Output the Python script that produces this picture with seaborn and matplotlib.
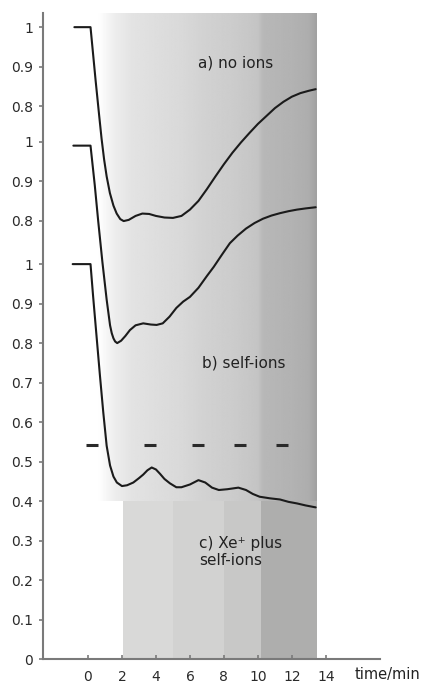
import numpy as np
import matplotlib
matplotlib.use("Agg")
import matplotlib.pyplot as plt
import seaborn as sns

# Traces drawn on one stacked axis (time in minutes, y in stacked-axis units)
t_no_ions = [-0.8, 0.15, 0.45, 0.65, 0.8, 0.95, 1.1, 1.29, 1.5, 1.69, 1.9, 2.1, 2.4, 2.8,
             3.2, 3.6, 4.0, 4.5, 5.0, 5.5, 6.0, 6.5, 7.0, 7.5, 8.0, 8.5, 9.0, 9.5, 10.0,
             10.5, 11.0, 11.5, 12.0, 12.5, 13.0, 13.4]
y_no_ions = [1.60, 1.60, 1.465, 1.38, 1.318, 1.265, 1.222, 1.18, 1.148, 1.128, 1.114,
             1.109, 1.112, 1.122, 1.128, 1.127, 1.122, 1.118, 1.117, 1.122, 1.138, 1.160,
             1.190, 1.222, 1.253, 1.282, 1.308, 1.332, 1.355, 1.375, 1.395, 1.411, 1.424,
             1.433, 1.439, 1.443]

t_self_ions = [-0.86, 0.15, 0.4, 0.6, 0.85, 1.1, 1.3, 1.4, 1.5, 1.6, 1.72, 1.95, 2.2, 2.47,
               2.8, 3.25, 3.7, 4.04, 4.4, 4.8, 5.2, 5.6, 6.0, 6.5, 7.0, 7.4, 7.9, 8.35,
               8.8, 9.3, 9.8, 10.3, 10.8, 11.3, 11.8, 12.3, 12.8, 13.4]
y_self_ions = [1.30, 1.30, 1.20, 1.11, 1.005, 0.91, 0.845, 0.825, 0.812, 0.804, 0.80,
               0.806, 0.818, 0.833, 0.845, 0.85, 0.847, 0.846, 0.85, 0.867, 0.889, 0.905,
               0.917, 0.94, 0.97, 0.993, 1.025, 1.053, 1.072, 1.09, 1.104, 1.115, 1.123,
               1.129, 1.134, 1.138, 1.141, 1.144]

t_xe_self = [-0.9, 0.15, 0.3, 0.5, 0.7, 0.9, 1.1, 1.3, 1.5, 1.7, 2.0, 2.3, 2.67, 3.0, 3.25,
             3.5, 3.75, 4.0, 4.24, 4.5, 4.82, 5.2, 5.5, 6.0, 6.5, 6.9, 7.3, 7.7, 8.2, 8.85,
             9.3, 9.7, 10.1, 10.7, 11.3, 11.8, 12.3, 12.8, 13.4]
y_xe_self = [1.00, 1.00, 0.92, 0.82, 0.72, 0.625, 0.54, 0.49, 0.462, 0.447, 0.438, 0.44,
             0.447, 0.458, 0.467, 0.478, 0.485, 0.48, 0.469, 0.456, 0.445, 0.435, 0.435,
             0.442, 0.453, 0.447, 0.434, 0.428, 0.43, 0.434, 0.428, 0.418, 0.411, 0.407,
             0.404, 0.398, 0.394, 0.389, 0.384]

# Short bars marking the ion pulses
pulse_times = [0.25, 3.65, 6.5, 8.95, 11.4]
pulse_level = [0.542] * len(pulse_times)

ytick_pos = [0.0, 0.1, 0.2, 0.3, 0.4, 0.5, 0.6, 0.7, 0.8, 0.9, 1.0,
             1.11, 1.21, 1.31, 1.40, 1.50, 1.60]
ytick_labels = ["0", "0.1", "0.2", "0.3", "0.4", "0.5", "0.6", "0.7", "0.8", "0.9", "1",
                "0.8", "0.9", "1", "0.8", "0.9", "1"]
xtick_pos = [0, 2, 4, 6, 8, 10, 12, 14]
xtick_labels = ["0", "2", "4", "6", "8", "10", "12", "14"]

sns.set_style("ticks")
plt.rcParams["font.family"] = ["DejaVu Sans"]

fig = plt.figure(figsize=(4.25, 6.84), dpi=100)
ax = fig.add_axes([0.101, 0.0365, 0.793, 0.944])

x_min, x_max = -2.65, 17.18
y_min, y_max = 0.0, 1.635
panel_right = 13.47

# Greyscale backdrop behind the traces
cols = np.linspace(x_min, panel_right, 800)
shade_t = [x_min, 0.6, 1.6, 2.6, 4.0, 5.5, 7.0, 8.5, 10.0, 10.3, 12.0, 13.0, panel_right]
shade_g = [1.0, 1.0, 0.93, 0.89, 0.87, 0.85, 0.82, 0.80, 0.77, 0.72, 0.70, 0.68, 0.63]
row = np.interp(cols, shade_t, shade_g)
ax.imshow(np.tile(row, (2, 1)), extent=[x_min, panel_right, 0.4, y_max], cmap="gray",
          vmin=0, vmax=1, aspect="auto", origin="lower", interpolation="bilinear", zorder=0)

band_edges = [2.05, 5.0, 8.0, 10.2, panel_right]
band_grey = ["#d9d9d8", "#d2d2d1", "#c8c8c7", "#aeaead"]
for x0, x1, c in zip(band_edges[:-1], band_edges[1:], band_grey):
    ax.axvspan(x0, x1, ymin=0, ymax=0.4 / y_max, color=c, lw=0, zorder=0)

line_kw = dict(color="#1b1b1b", lw=1.5, sort=False, estimator=None, ax=ax, zorder=3,
               solid_joinstyle="round", solid_capstyle="round")
sns.lineplot(x=t_no_ions, y=y_no_ions, **line_kw)
sns.lineplot(x=t_self_ions, y=y_self_ions, **line_kw)
sns.lineplot(x=t_xe_self, y=y_xe_self, **line_kw)

ax.plot(pulse_times, pulse_level, ls="none", marker="_", ms=8, mew=2.2,
        color="#2a2a2a", zorder=3)

txt_kw = dict(fontsize=11, color="#222222", va="baseline", zorder=4)
ax.text(6.47, 1.499, "a) no ions", **txt_kw)
ax.text(6.69, 0.737, "b) self-ions", **txt_kw)
ax.text(6.53, 0.237, "c) Xe\u207a plus\nself-ions", linespacing=1.2, **txt_kw)

ax.set_xlim(x_min, x_max)
ax.set_ylim(y_min, y_max)
ax.set_xticks(xtick_pos)
ax.set_xticklabels(xtick_labels)
ax.set_yticks(ytick_pos)
ax.set_yticklabels(ytick_labels)
ax.set_xlabel("")
ax.set_ylabel("")

sns.despine(ax=ax)
for side in ("left", "bottom"):
    ax.spines[side].set_color("#7a7a7a")
    ax.spines[side].set_linewidth(1.5)
ax.tick_params(axis="y", direction="out", length=3, width=1.2, color="#7a7a7a",
               labelsize=10, labelcolor="#2a2a2a", pad=4)
ax.tick_params(axis="x", direction="in", length=3, width=1.2, color="#7a7a7a",
               labelsize=10, labelcolor="#2a2a2a", pad=8)

fig.text(0.99, 1.5 / 684, "time/min", fontsize=10.5, color="#222222",
         va="bottom", ha="right")

fig.savefig("out.png", dpi=100)
